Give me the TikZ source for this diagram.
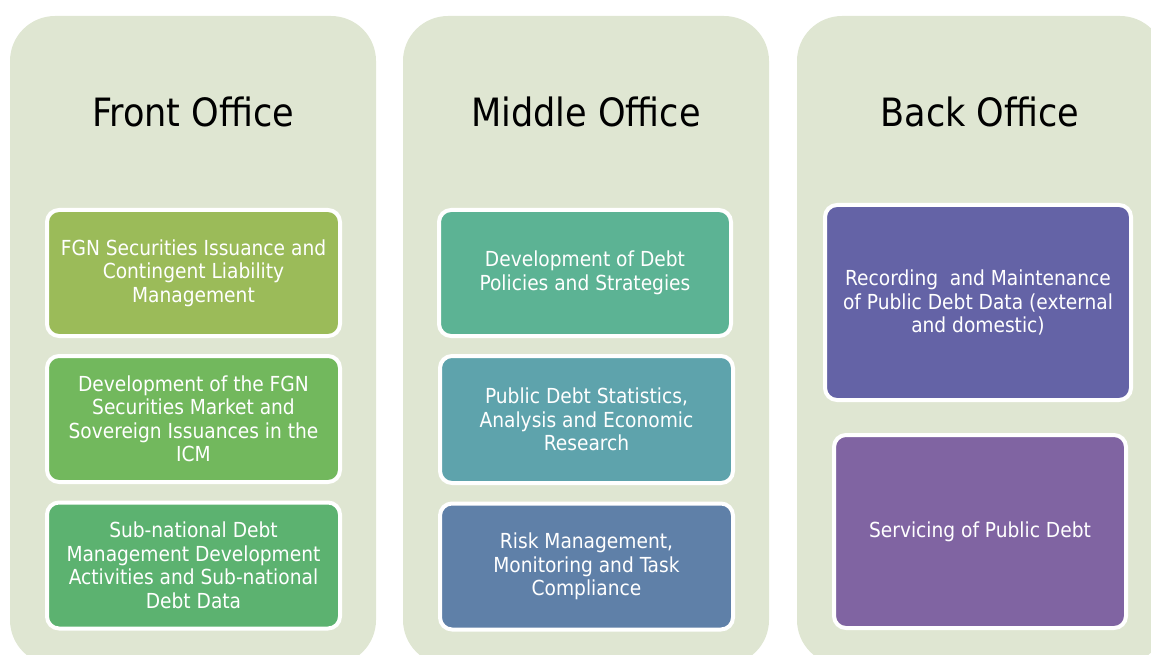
\documentclass[tikz,border=0pt]{standalone}
\usepackage{fontspec}
\setmainfont{DejaVu Sans Condensed}
\usepackage{xcolor}
\usetikzlibrary{positioning}

\definecolor{panelbg}{HTML}{DFE6D2}
\definecolor{frontA}{HTML}{9BBB59}
\definecolor{frontB}{HTML}{72B85D}
\definecolor{frontC}{HTML}{5CB270}
\definecolor{middleA}{HTML}{5CB394}
\definecolor{middleB}{HTML}{5EA3AC}
\definecolor{middleC}{HTML}{5F80A8}
\definecolor{backA}{HTML}{6463A6}
\definecolor{backB}{HTML}{8064A2}

\begin{document}
\begin{tikzpicture}[x=1pt,y=-1pt,
    panel/.style={fill=panelbg, rounded corners=45pt},
    title/.style={font=\fontsize{39}{43}\selectfont, text=black},
    task/.style={draw=white, line width=4pt, rounded corners=12pt, text=white,
        align=center, inner sep=0pt, font=\fontsize{20.7}{23.5}\selectfont},
    frontbox/.style={task, minimum width=293pt, minimum height=126pt}]
    \useasboundingbox (0,0) rectangle (1151,655);
    % the three office panels, cut off at the bottom and on the right
    \begin{scope}
        \clip (0,0) rectangle (1151,655);
        \fill[panel] (10,16) rectangle (376,665);
        \fill[panel] (403,16) rectangle (769,665);
        \fill[panel] (797,16) rectangle (1165,665);
    \end{scope}
    \node[title] (front) at (193,112) {Front Office};
    \node[title] (middle) at (586,112) {Middle Office};
    \node[title] (back) at (980,112) {Back Office};
    % front office
    \node[frontbox, fill=frontA] (issuance) at (193.5,273) {FGN Securities Issuance and\\Contingent Liability\\Management};
    \node[frontbox, fill=frontB, below=16pt of issuance] (market) {Development of the FGN\\Securities Market and\\Sovereign Issuances in the\\ICM};
    \node[frontbox, fill=frontC, below=16.5pt of market] (subnational) {Sub-national Debt\\Management Development\\Activities and Sub-national\\Debt Data};
    % middle office
    \node[task, fill=middleA, minimum width=292pt, minimum height=126pt] (policies) at (585,273) {Development of Debt\\Policies and Strategies};
    \node[task, fill=middleB, minimum width=293pt, minimum height=127pt, below=16pt of policies.south, xshift=1.5pt, anchor=north] (statistics) {Public Debt Statistics,\\Analysis and Economic\\Research};
    \node[task, fill=middleC, minimum width=293pt, minimum height=126pt, below=16.5pt of statistics] (risk) {Risk Management,\\Monitoring and Task\\Compliance};
    % back office
    % \node[task, fill=backA] (recording) at (978,302.5) {};
    \node[task, fill=backA, minimum width=306pt, minimum height=195pt] (recording) at (978,302.5) {Recording~ and Maintenance\\of Public Debt Data (external\\and domestic)};
    \node[task, fill=backB, minimum width=292pt, minimum height=193pt] (servicing) at (980,531.5) {Servicing of Public Debt};
\end{tikzpicture}
\end{document}
